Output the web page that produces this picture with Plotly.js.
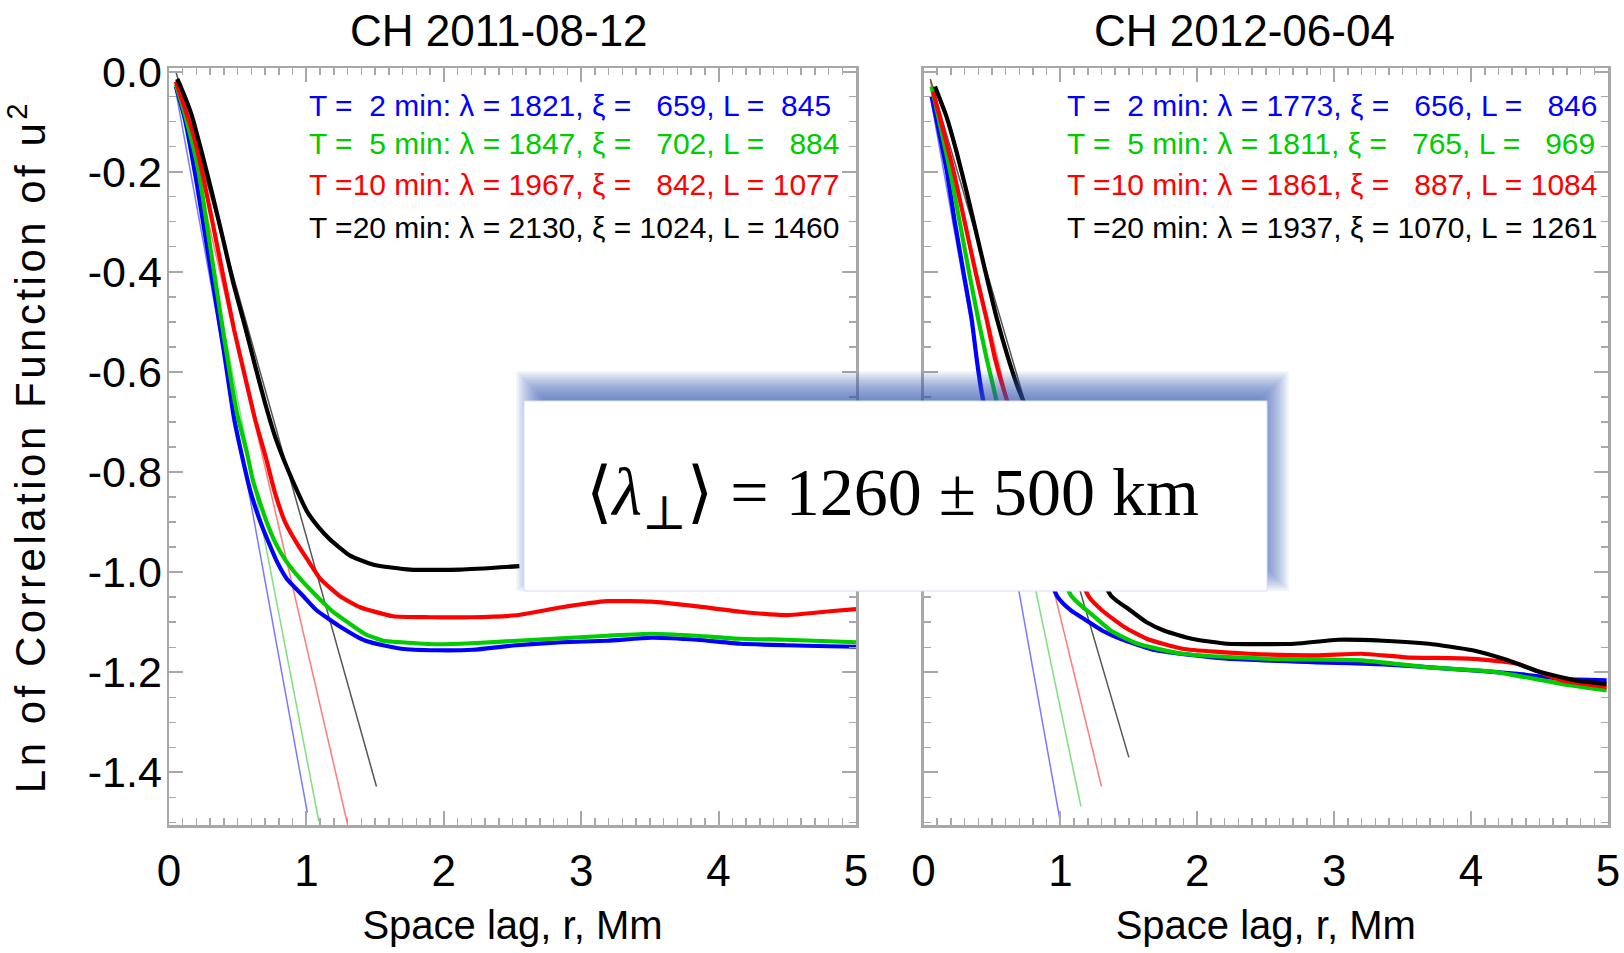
<!DOCTYPE html>
<html><head><meta charset="utf-8">
<script src="https://cdn.plot.ly/plotly-3.0.1.min.js"></script>
<style>
html,body{margin:0;padding:0;background:#fff;}
#chart{width:1624px;height:953px;}
.ytitle{letter-spacing:3.5px;}
</style></head><body><div id="chart"></div>
<script>
// ---------------- data ----------------
const panelTitles = ["CH 2011-08-12", "CH 2012-06-04"];
const seriesColors = ["#0000ff", "#00cc00", "#ff0000", "#000000"];
const fitColors = ["#7a7aff", "#7fe07f", "#ff7a7a", "#555555"];
const leftLabels = [
  "T =\u00a0\u00a02 min: λ = 1821, ξ =\u00a0\u00a0\u00a0659, L =\u00a0\u00a0845",
  "T =\u00a0\u00a05 min: λ = 1847, ξ =\u00a0\u00a0\u00a0702, L =\u00a0\u00a0\u00a0884",
  "T =10 min: λ = 1967, ξ =\u00a0\u00a0\u00a0842, L = 1077",
  "T =20 min: λ = 2130, ξ = 1024, L = 1460"
];
const rightLabels = [
  "T =\u00a0\u00a02 min: λ = 1773, ξ =\u00a0\u00a0\u00a0656, L =\u00a0\u00a0\u00a0846",
  "T =\u00a0\u00a05 min: λ = 1811, ξ =\u00a0\u00a0\u00a0765, L =\u00a0\u00a0\u00a0969",
  "T =10 min: λ = 1861, ξ =\u00a0\u00a0\u00a0887, L = 1084",
  "T =20 min: λ = 1937, ξ = 1070, L = 1261"
];
const boxText = "⟨<i>λ</i><sub>⊥</sub>⟩ = 1260 ± 500 km";
const xTitle = "Space lag, r, Mm";
const yTitle = "Ln of Correlation Function of u<sup>2</sup>";
const yTickVals = [0, -0.2, -0.4, -0.6, -0.8, -1.0, -1.2, -1.4];
const yTickText = ["0.0", "-0.2", "-0.4", "-0.6", "-0.8", "-1.0", "-1.2", "-1.4"];

// Left panel (CH 2011-08-12)
const L_blue_r = [0.05, 0.12, 0.20, 0.30, 0.40, 0.474, 0.529, 0.590, 0.675, 0.784, 0.857, 0.978, 1.07, 1.235, 1.43, 1.69, 1.95, 2.21, 2.53, 2.86, 3.19, 3.51, 3.84, 4.16, 4.49, 4.80, 5.0];
const L_blue_v = [-0.03, -0.10, -0.22, -0.39, -0.56, -0.694, -0.765, -0.836, -0.907, -0.978, -1.013, -1.048, -1.075, -1.107, -1.137, -1.153, -1.156, -1.155, -1.146, -1.140, -1.137, -1.131, -1.135, -1.143, -1.146, -1.148, -1.149];
const L_green_r = [0.05, 0.12, 0.214, 0.30, 0.40, 0.493, 0.566, 0.614, 0.711, 0.772, 0.845, 0.954, 1.076, 1.197, 1.30, 1.43, 1.56, 1.69, 1.95, 2.20, 2.53, 2.86, 3.19, 3.51, 3.84, 4.16, 4.49, 4.80, 5.0];
const L_green_v = [-0.025, -0.09, -0.197, -0.35, -0.53, -0.68, -0.76, -0.82, -0.90, -0.94, -0.975, -1.013, -1.048, -1.080, -1.100, -1.124, -1.137, -1.140, -1.144, -1.142, -1.137, -1.132, -1.127, -1.123, -1.127, -1.133, -1.135, -1.138, -1.140];
const L_red_r = [0.05, 0.177, 0.238, 0.318, 0.396, 0.474, 0.553, 0.626, 0.706, 0.772, 0.845, 0.930, 1.015, 1.100, 1.245, 1.391, 1.63, 1.90, 2.20, 2.53, 2.86, 3.19, 3.51, 3.83, 4.16, 4.49, 4.81, 5.0];
const L_red_v = [-0.02, -0.126, -0.197, -0.303, -0.410, -0.516, -0.609, -0.694, -0.772, -0.842, -0.900, -0.942, -0.978, -1.013, -1.048, -1.070, -1.088, -1.090, -1.090, -1.086, -1.070, -1.058, -1.059, -1.068, -1.079, -1.086, -1.078, -1.074];
const L_black_r = [0.06, 0.085, 0.165, 0.238, 0.311, 0.391, 0.469, 0.553, 0.626, 0.699, 0.772, 0.857, 0.930, 1.003, 1.088, 1.173, 1.318, 1.488, 1.755, 2.12, 2.55];
const L_black_v = [-0.015, -0.030, -0.087, -0.161, -0.240, -0.332, -0.424, -0.509, -0.587, -0.662, -0.729, -0.790, -0.836, -0.878, -0.910, -0.935, -0.967, -0.985, -0.995, -0.995, -0.988];
// straight fits, left panel (start, end)
const L_fit_r = [[0.05, 1.007], [0.05, 1.09], [0.05, 1.30], [0.05, 1.51]];
const L_fit_v = [[-0.04, -1.481], [-0.015, -1.497], [-0.02, -1.504], [0.0, -1.428]];

// Right panel (CH 2012-06-04)
const R_blue_r = [0.06, 0.169, 0.230, 0.298, 0.352, 0.388, 0.437, 0.981, 1.079, 1.176, 1.307, 1.437, 1.697, 2.22, 2.87, 3.36, 3.85, 4.34, 4.66, 4.99];
const R_blue_v = [-0.05, -0.197, -0.303, -0.410, -0.495, -0.573, -0.658, -1.050, -1.077, -1.094, -1.117, -1.133, -1.156, -1.173, -1.180, -1.184, -1.193, -1.203, -1.213, -1.216];
const R_green_r = [0.06, 0.193, 0.266, 0.339, 0.40, 0.461, 0.522, 0.54, 1.079, 1.24, 1.37, 1.567, 1.89, 2.54, 3.20, 3.69, 4.17, 4.66, 4.99];
const R_green_v = [-0.03, -0.197, -0.303, -0.410, -0.495, -0.573, -0.644, -0.665, -1.047, -1.087, -1.117, -1.143, -1.163, -1.173, -1.176, -1.190, -1.199, -1.223, -1.236];
const R_red_r = [0.07, 0.218, 0.303, 0.388, 0.461, 0.522, 0.595, 0.63, 1.21, 1.307, 1.47, 1.63, 1.89, 2.38, 2.87, 3.20, 3.52, 4.01, 4.34, 4.66, 4.99];
const R_red_v = [-0.04, -0.197, -0.303, -0.410, -0.495, -0.573, -0.644, -0.672, -1.050, -1.077, -1.110, -1.133, -1.153, -1.163, -1.166, -1.163, -1.170, -1.173, -1.183, -1.216, -1.229];
const R_black_r = [0.084, 0.169, 0.242, 0.315, 0.388, 0.461, 0.534, 0.619, 0.692, 0.741, 1.37, 1.50, 1.63, 1.76, 1.96, 2.22, 2.71, 3.03, 3.36, 3.69, 4.01, 4.27, 4.50, 4.76, 4.99];
const R_black_v = [-0.030, -0.091, -0.161, -0.240, -0.325, -0.410, -0.492, -0.573, -0.633, -0.665, -1.047, -1.074, -1.100, -1.117, -1.133, -1.143, -1.143, -1.135, -1.137, -1.143, -1.156, -1.176, -1.199, -1.216, -1.223];
const R_fit_r = [[0.05, 0.996], [0.05, 1.15], [0.05, 1.30], [0.05, 1.50]];
const R_fit_v = [[-0.05, -1.494], [-0.03, -1.468], [-0.02, -1.428], [-0.015, -1.370]];

// ---------------- styling / layout ----------------
const GREY = "#a8a8a8";
const SANS = '"Liberation Sans", Arial, sans-serif';
const traces = [];
function addPanel(xa, ya, fr, fv, curves) {
  fr.forEach((r, i) => traces.push({x: r, y: fv[i], xaxis: xa, yaxis: ya, type: "scatter", mode: "lines",
    line: {color: fitColors[i], width: 1.5}, hoverinfo: "skip"}));
  curves.forEach((c, i) => traces.push({x: c[0], y: c[1], xaxis: xa, yaxis: ya, type: "scatter", mode: "lines",
    line: {color: seriesColors[i], width: 4.2, shape: "spline", smoothing: 0.5}}));
}
addPanel("x", "y", L_fit_r, L_fit_v, [[L_blue_r, L_blue_v], [L_green_r, L_green_v], [L_red_r, L_red_v], [L_black_r, L_black_v]]);
addPanel("x2", "y2", R_fit_r, R_fit_v, [[R_blue_r, R_blue_v], [R_green_r, R_green_v], [R_red_r, R_red_v], [R_black_r, R_black_v]]);

// plot-area pixel frame
const PL = 169, PR = 1608, PT = 68, PB = 825;
const px = x => (x - PL) / (PR - PL);
const py = y => (PB - y) / (PB - PT);

function xAxis(domain, anchor) {
  return {domain, anchor, range: [0, 5], tickmode: "linear", tick0: 0, dtick: 1,
    ticks: "inside", ticklen: 14, tickwidth: 2, tickcolor: GREY,
    showline: true, linecolor: GREY, linewidth: 2.5, mirror: "allticks",
    showgrid: false, zeroline: false, automargin: false,
    tickfont: {size: 44, family: SANS, color: "#000"}, ticklabelstandoff: 6,
    minor: {tickmode: "linear", tick0: 0, dtick: 0.1, ticks: "inside", ticklen: 7, tickwidth: 1.5, tickcolor: GREY, showgrid: false},
    title: {text: xTitle, font: {size: 40, family: SANS, color: "#000"}, standoff: 17}};
}
function yAxis(anchor, labels) {
  const a = {anchor, domain: [0, 1], range: [-1.505, 0.007], tickmode: "array", tickvals: yTickVals, ticktext: yTickText,
    ticks: "inside", ticklen: 14, tickwidth: 2, tickcolor: GREY,
    showline: true, linecolor: GREY, linewidth: 2.5, mirror: "allticks",
    showgrid: false, zeroline: false, automargin: false, showticklabels: labels,
    tickfont: {size: 43, family: SANS, color: "#000"}, ticklabelstandoff: -4,
    minor: {tickmode: "linear", tick0: 0, dtick: 0.05, ticks: "inside", ticklen: 7, tickwidth: 1.5, tickcolor: GREY, showgrid: false}};
  if (labels) a.title = {text: yTitle, font: {size: 42, family: SANS, color: "#000"}, standoff: 34};
  return a;
}

// inset box with a soft blue shadow (stacked translucent rects)
const box = {x0: 524, x1: 1267, y0: 401, y1: 591};
const shapes = [];
const sdx = 7, sdy = -15;
for (let e = -15; e <= 15; e += 1.5) {
  shapes.push({type: "rect", xref: "paper", yref: "paper", layer: "above",
    x0: px(box.x0 + sdx - e), x1: px(box.x1 + sdx + e), y0: py(box.y1 + sdy + e), y1: py(box.y0 + sdy - e),
    fillcolor: "rgb(55,88,180)", opacity: 0.056, line: {width: 0}});
}
shapes.push({type: "rect", xref: "paper", yref: "paper", layer: "above",
  x0: px(box.x0), x1: px(box.x1), y0: py(box.y1), y1: py(box.y0),
  fillcolor: "#ffffff", line: {color: "#d8deee", width: 1}});

const annotations = [];
[[panelTitles[0], 499], [panelTitles[1], 1244]].forEach(([t, cx]) => annotations.push({
  text: t, xref: "paper", yref: "paper", x: px(cx), y: py(30), xanchor: "center", yanchor: "middle",
  showarrow: false, font: {size: 44, family: SANS, color: "#000"}}));
const lineY = [105, 144, 185, 227];
leftLabels.forEach((t, i) => annotations.push({text: t, xref: "paper", yref: "paper", x: px(307), y: py(lineY[i]),
  xanchor: "left", yanchor: "middle", showarrow: false, font: {size: 30, family: SANS, color: seriesColors[i]}}));
rightLabels.forEach((t, i) => annotations.push({text: t, xref: "paper", yref: "paper", x: px(1065), y: py(lineY[i]),
  xanchor: "left", yanchor: "middle", showarrow: false, font: {size: 30, family: SANS, color: seriesColors[i]}}));
annotations.push({text: boxText, xref: "paper", yref: "paper", x: px(892), y: py(497), xanchor: "center", yanchor: "middle",
  showarrow: false, font: {size: 68, family: '"Liberation Serif", "DejaVu Serif", "Times New Roman", serif', color: "#000"}});

const layout = {
  width: 1624, height: 953,
  margin: {l: PL, r: 1624 - PR, t: PT, b: 953 - PB, pad: 0},
  paper_bgcolor: "#ffffff", plot_bgcolor: "#ffffff", showlegend: false,
  font: {family: SANS, color: "#000"},
  xaxis: xAxis([0, px(856)], "y"),
  yaxis: yAxis("x", true),
  xaxis2: xAxis([px(923.5), 1], "y2"),
  yaxis2: yAxis("x2", false),
  shapes, annotations
};
Plotly.newPlot("chart", traces, layout, {staticPlot: true, displayModeBar: false});
</script></body></html>
